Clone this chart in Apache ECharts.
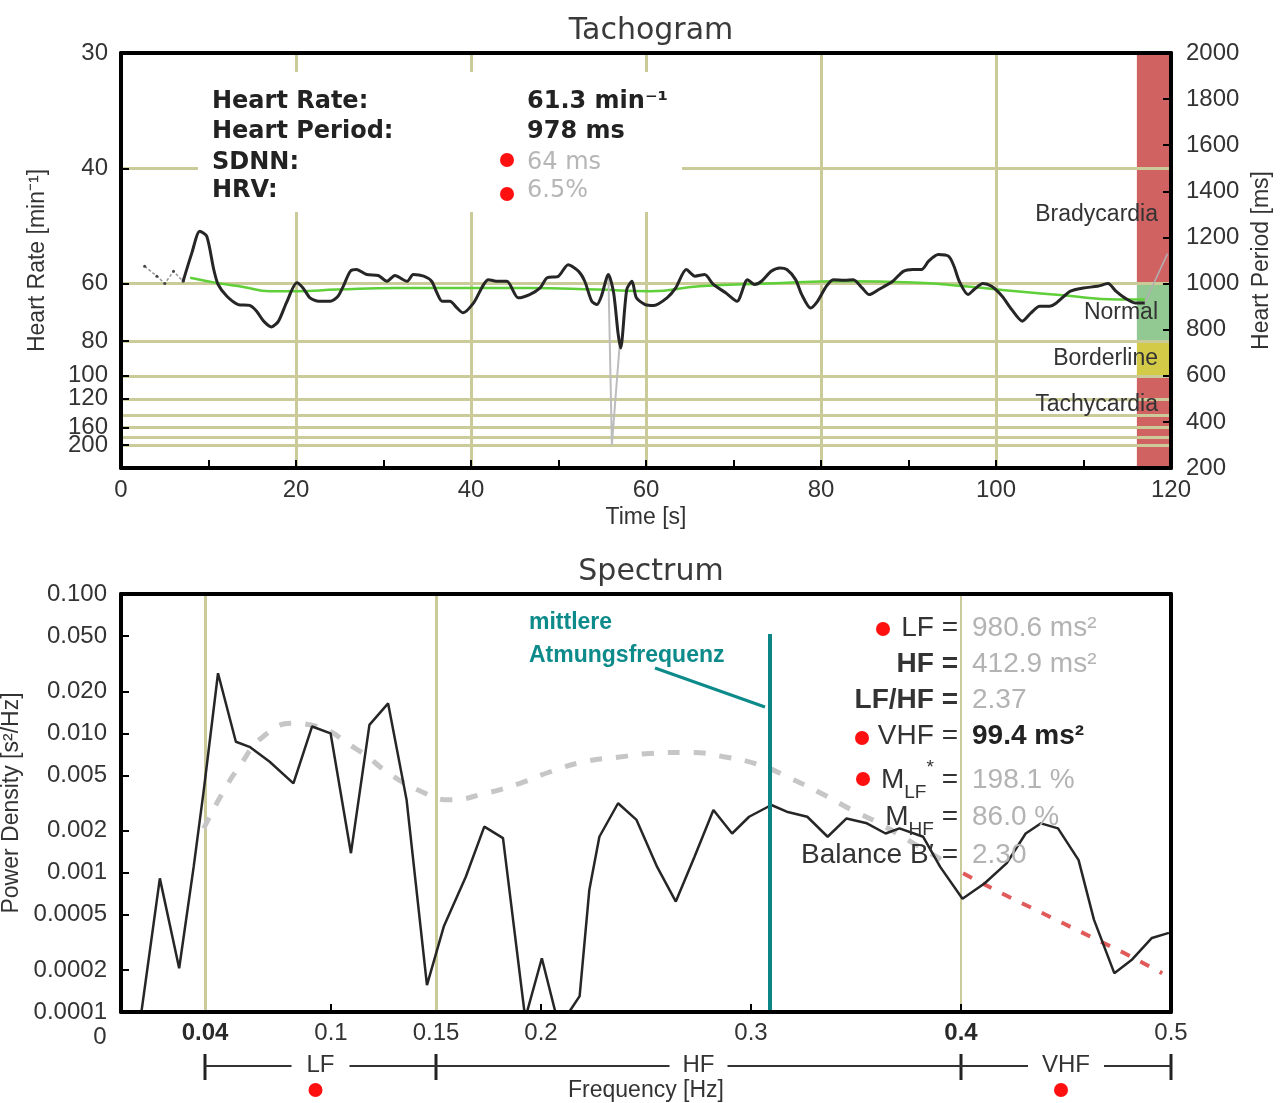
<!DOCTYPE html>
<html><head><meta charset="utf-8">
<script src="https://cdn.jsdelivr.net/npm/echarts@6/dist/echarts.min.js"></script>
<style>html,body{margin:0;padding:0;background:#fff}#c{width:1281px;height:1103px}</style>
</head><body><div id="c"></div>
<script>
// ================= Tachogram data =================
const timeTickLabels = [0, 20, 40, 60, 80, 100, 120];
const timeGridLines = [20, 40, 60, 80, 100];
const hrTickLabels = [30, 40, 60, 80, 100, 120, 160, 200];          // min^-1 (left axis)
const hrGridLines = [40, 60, 80, 100, 120, 140, 160, 180, 200];     // min^-1
const zoneStart = 116.1;                                           // s
const zoneNames = ['Bradycardia', 'Normal', 'Borderline', 'Tachycardia'];
const zoneHrRanges = [[30, 60], [60, 80], [80, 100], [100, 300]];  // min^-1
const zoneColors = ['#d06262', '#92c992', '#d3ca48', '#d06262'];
// [time s, heart period ms]
const hrFiltered = [[7.1,1010],[8.1,1133],[9.0,1227],[9.8,1205],[10.6,1061],[11.1,996],[12.1,945],[13.4,909],[14.7,905],[15.5,880],[16.3,837],[17.2,812],[18.0,837],[18.9,916],[20.1,1003],[20.8,981],[21.6,938],[22.6,923],[23.9,923],[24.8,945],[25.4,988],[26.2,1053],[26.9,1061],[28.1,1039],[29.4,1035],[30.4,1010],[31.3,1035],[32.7,1010],[33.4,1039],[34.6,1032],[35.5,1010],[36.1,960],[36.7,923],[37.6,923],[38.4,894],[39.1,873],[40.3,916],[42.0,1017],[42.9,1010],[44.1,1010],[45.4,938],[46.7,952],[47.9,981],[48.7,1025],[50.0,1032],[51.1,1082],[52.3,1053],[53.0,1010],[53.8,923],[54.4,909],[54.9,945],[55.7,1039],[56.3,960],[56.8,786],[57.1,720],[57.8,974],[58.4,1010],[58.9,938],[59.9,909],[60.9,905],[62.4,938],[63.4,981],[64.6,1061],[65.6,1032],[66.7,1039],[67.7,996],[69.1,960],[70.4,923],[71.6,1017],[72.4,996],[73.2,1010],[74.3,1053],[75.3,1068],[76.1,1061],[77.1,1017],[77.8,952],[78.8,894],[79.6,923],[80.6,988],[81.4,1017],[82.7,1014],[83.7,1017],[84.7,981],[85.5,952],[86.6,974],[88.2,1010],[89.4,1053],[90.5,1061],[91.5,1061],[92.3,1097],[93.4,1126],[94.6,1118],[95.2,1075],[95.8,1010],[96.8,952],[97.5,974],[98.5,1000],[99.5,988],[100.7,945],[101.8,887],[103.0,837],[104.0,873],[105.0,902],[106.1,902],[106.9,916],[108.5,967],[110.0,981],[111.6,988],[112.8,1000],[113.7,967],[114.7,938],[115.9,916],[117.0,916]];
const hrRawStart = [[2.7,1075],[4.1,1032],[5.0,1000],[6.0,1053],[7.1,1010]];
const hrRawSpike = [[55.7,1039],[56.1,300],[57.0,740]];
const hrRawEnd = [[117.0,916],[119.6,1130]];
const hrTrend = [[7.9,1025],[10.9,1003],[14.0,985],[17.0,967],[20.1,967],[24.7,974],[31.5,981],[39.1,981],[46.7,981],[54.4,974],[60.5,967],[66.1,988],[73.9,1000],[82.7,1010],[90.5,1005],[96.4,988],[102.3,967],[108.0,948],[113.9,931],[117.0,931]];
const infoLabels = ['Heart Rate:', 'Heart Period:', 'SDNN:', 'HRV:'];
const infoValues = ['61.3 min⁻¹', '978 ms', '64 ms', '6.5%'];

// ================= Spectrum data =================
const freqTickVals = [0, 0.04, 0.1, 0.15, 0.2, 0.3, 0.4, 0.5];
const freqTickLabels = ['0', '0.04', '0.1', '0.15', '0.2', '0.3', '0.4', '0.5'];
const freqMinorTicks = [0.1, 0.2, 0.3, 0.4];
const psdTickVals = [0.1, 0.05, 0.02, 0.01, 0.005, 0.002, 0.001, 0.0005, 0.0002, 0.0001];
const psdTickLabels = ['0.100', '0.050', '0.020', '0.010', '0.005', '0.002', '0.001', '0.0005', '0.0002', '0.0001'];
const bandEdges = [0.04, 0.15, 0.4, 0.5];
const bandNames = ['LF', 'HF', 'VHF'];
const respFreq = 0.309;           // Hz, mittlere Atmungsfrequenz
const respMarkerTop = 0.0516;     // s^2/Hz
// [frequency Hz, power density s^2/Hz]
const spectrumPsd = [[0.0093,0.00009],[0.0185,0.00091],[0.0277,0.000206],[0.0346,0.0011],[0.0394,0.0039],[0.0462,0.027],[0.0547,0.0087],[0.0612,0.0080],[0.0708,0.00625],[0.0821,0.00437],[0.091,0.0112],[0.0998,0.010],[0.1095,0.00138],[0.1183,0.0115],[0.1272,0.0164],[0.136,0.00333],[0.1457,0.000156],[0.1537,0.00041],[0.1642,0.000935],[0.173,0.00214],[0.1819,0.00177],[0.1925,0.00009],[0.2004,0.000243],[0.2076,0.00009],[0.2134,0.0001],[0.2184,0.00013],[0.223,0.00075],[0.2278,0.00181],[0.2367,0.00315],[0.2455,0.00239],[0.2553,0.0011],[0.2642,0.00062],[0.2731,0.0013],[0.2821,0.00282],[0.291,0.00191],[0.2991,0.00252],[0.3097,0.00306],[0.317,0.00274],[0.3268,0.00252],[0.3365,0.00181],[0.3455,0.00245],[0.3552,0.00226],[0.3641,0.00191],[0.3707,0.00208],[0.382,0.00181],[0.3901,0.0011],[0.4007,0.00065],[0.4113,0.00084],[0.4218,0.00117],[0.4308,0.00191],[0.4381,0.00226],[0.4462,0.00208],[0.456,0.00123],[0.4633,0.00046],[0.473,0.00019],[0.4812,0.000236],[0.4909,0.00034],[0.499,0.00037]];
const spectrumModel = [[0.0394,0.00208],[0.0483,0.00372],[0.0563,0.00576],[0.0676,0.00946],[0.0821,0.0118],[0.0902,0.0115],[0.1127,0.0076],[0.1288,0.00502],[0.1433,0.00381],[0.1561,0.00333],[0.1739,0.00372],[0.19,0.00438],[0.2045,0.0053],[0.2206,0.00625],[0.2383,0.00679],[0.252,0.00718],[0.2699,0.0073],[0.287,0.0068],[0.304,0.00593],[0.3187,0.00476],[0.3333,0.00372],[0.348,0.00282],[0.361,0.00226],[0.3772,0.00163],[0.3935,0.00117]];
const vhfTrend = [[0.401,0.00099],[0.4178,0.00073],[0.4487,0.000433],[0.4779,0.000264],[0.4958,0.00019]];

// ================= build =================
const lg = v => Math.round(Math.log10(v) * 1e9) / 1e9;
const toLog = arr => arr.map(([f, p]) => [f, lg(p)]);
const FONT = 'Liberation Sans';
const khaki = '#cbcb9a';
const axisLine = { show: true, onZero: false, lineStyle: { color: '#000', width: 4 } };
const tick = { show: true, inside: true, length: 8, lineStyle: { color: '#000', width: 2 } };
const lbl = { fontFamily: FONT, fontSize: 24, color: '#333', hideOverlap: false };
const nameStyle = { fontFamily: FONT, fontSize: 23, color: '#333' };
const noLine = { show: false };
const periodTicks = hrTickLabels.map(h => 60000 / h);
// labels split over two overlaid axes so that the tightly packed 160/200 labels are both kept
const periodLabelsA = periodTicks.slice(0, periodTicks.length - 1);
const periodLabelsB = periodTicks.slice(periodTicks.length - 1);
const hrFmt = v => String(Math.round(60000 / v));

const chart = echarts.init(document.getElementById('c'), null, { renderer: 'canvas' });

const option = {
  animation: false,
  backgroundColor: '#fff',
  title: [
    { text: 'Tachogram', left: 646, top: 11, textAlign: 'center', textStyle: { fontFamily: 'DejaVu Sans', fontSize: 30, fontWeight: 'normal', color: '#3a3a3a' } },
    { text: 'Spectrum', left: 646, top: 552, textAlign: 'center', textStyle: { fontFamily: 'DejaVu Sans', fontSize: 30, fontWeight: 'normal', color: '#3a3a3a' } }
  ],
  grid: [
    { left: 121, top: 53, width: 1050, height: 415, containLabel: false, outerBoundsMode: 'none' },
    { left: 121, top: 594, width: 1050, height: 418, containLabel: false, outerBoundsMode: 'none' }
  ],
  xAxis: [
    { gridIndex: 0, type: 'value', min: 0, max: 120, interval: 10, position: 'bottom', z: 6,
      axisLine, axisTick: tick, splitLine: noLine,
      axisLabel: { ...lbl, margin: 10, formatter: v => timeTickLabels.includes(v) ? String(v) : '' },
      name: 'Time [s]', nameLocation: 'middle', nameGap: 38, nameTextStyle: nameStyle },
    { gridIndex: 0, type: 'value', min: 0, max: 120, position: 'top', z: 6,
      axisLine, axisTick: noLine, axisLabel: noLine, splitLine: noLine },
    { gridIndex: 1, type: 'value', min: 0, max: 0.5, position: 'bottom', z: 6,
      axisLine, axisTick: { ...tick, customValues: freqMinorTicks }, splitLine: noLine,
      axisLabel: { ...lbl, margin: 9, customValues: freqTickVals,
        formatter: v => {
          const i = freqTickVals.findIndex(x => Math.abs(x - v) < 1e-9);
          if (i < 0) return '';
          const s = freqTickLabels[i];
          if (s === '0') return '{z|0}';
          if (s === '0.04' || s === '0.4') return '{b|' + s + '}';
          return s;
        },
        rich: { z: { fontFamily: FONT, fontSize: 24, color: '#333', padding: [4, 42, 0, 0] }, b: { fontFamily: FONT, fontSize: 24, fontWeight: 'bold', color: '#2a2a2a' } } },
      name: 'Frequency [Hz]', nameLocation: 'middle', nameGap: 67, nameTextStyle: nameStyle },
    { gridIndex: 1, type: 'value', min: 0, max: 0.5, position: 'top', z: 6,
      axisLine, axisTick: noLine, axisLabel: noLine, splitLine: noLine }
  ],
  yAxis: [
    { gridIndex: 0, type: 'value', min: 200, max: 2000, position: 'left', z: 6,
      axisLine, axisTick: { ...tick, customValues: periodTicks }, splitLine: noLine,
      axisLabel: { ...lbl, margin: 13, customValues: periodLabelsA, formatter: hrFmt },
      name: 'Heart Rate [min⁻¹]', nameLocation: 'middle', nameRotate: 90, nameGap: 72, nameTextStyle: nameStyle },
    { gridIndex: 0, type: 'value', min: 200, max: 2000, interval: 200, position: 'right', z: 6,
      axisLine, axisTick: tick, splitLine: noLine,
      axisLabel: { ...lbl, margin: 15, formatter: v => String(v) },
      name: 'Heart Period [ms]', nameLocation: 'middle', nameRotate: 90, nameGap: 76, nameTextStyle: nameStyle },
    { gridIndex: 1, type: 'value', min: -4, max: -1, position: 'left', z: 6,
      axisLine, axisTick: { ...tick, customValues: psdTickVals.map(lg) }, splitLine: noLine,
      axisLabel: { ...lbl, margin: 14, customValues: psdTickVals.map(lg),
        formatter: v => {
          let bi = 0, bd = 1e9;
          psdTickVals.forEach((t, i) => { const d = Math.abs(lg(t) - v); if (d < bd) { bd = d; bi = i; } });
          return psdTickLabels[bi];
        } },
      name: 'Power Density [s²/Hz]', nameLocation: 'middle', nameRotate: 90, nameGap: 77, nameTextStyle: nameStyle },
    { gridIndex: 1, type: 'value', min: -4, max: -1, position: 'right', z: 6,
      axisLine, axisTick: noLine, axisLabel: noLine, splitLine: noLine },
    { gridIndex: 0, type: 'value', min: 200, max: 2000, position: 'left', offset: 0, z: 6,
      axisLine: { show: false }, axisTick: noLine, splitLine: noLine,
      axisLabel: { ...lbl, margin: 13, customValues: periodLabelsB, formatter: hrFmt } }
  ],
  series: [
    { name: 'trend', type: 'line', xAxisIndex: 0, yAxisIndex: 1, z: 3, data: hrTrend, showSymbol: false, smooth: true,
      lineStyle: { color: '#5fcf3a', width: 2.5 }, silent: true,
      markArea: { silent: true, z: 1, data: zoneHrRanges.map((r, i) => [
        { xAxis: zoneStart, yAxis: 60000 / r[1], itemStyle: { color: zoneColors[i], opacity: 1 } },
        { xAxis: 120, yAxis: 60000 / r[0] }]) } },
    { name: 'rawStart', type: 'line', xAxisIndex: 0, yAxisIndex: 1, z: 3, data: hrRawStart, symbol: 'circle', symbolSize: 3,
      itemStyle: { color: '#444' }, lineStyle: { color: '#999', width: 1.5, type: [3, 2] }, silent: true },
    { name: 'rawSpike', type: 'line', xAxisIndex: 0, yAxisIndex: 1, z: 3, data: hrRawSpike, showSymbol: false,
      lineStyle: { color: '#bdbdbd', width: 2 }, silent: true },
    { name: 'rawEnd', type: 'line', xAxisIndex: 0, yAxisIndex: 1, z: 3, data: hrRawEnd, showSymbol: false,
      lineStyle: { color: '#b0b0b0', width: 1.5 }, silent: true },
    { name: 'heart', type: 'line', xAxisIndex: 0, yAxisIndex: 1, z: 4, data: hrFiltered, showSymbol: false, smooth: 0.25,
      lineStyle: { color: '#262626', width: 3 }, silent: true,
      markLine: { silent: true, z: 2, symbol: ['none', 'none'], label: { show: false },
        lineStyle: { color: khaki, width: 3, type: 'solid' },
        data: hrGridLines.map(h => ({ yAxis: 60000 / h })).concat(timeGridLines.map(t => ({ xAxis: t }))) } },
    { name: 'psd', type: 'line', xAxisIndex: 2, yAxisIndex: 2, z: 4, data: toLog(spectrumPsd), showSymbol: false,
      lineStyle: { color: '#262626', width: 2.5 }, silent: true,
      markLine: { silent: true, z: 2, symbol: ['none', 'none'], label: { show: false },
        lineStyle: { color: khaki, width: 3, type: 'solid' },
        data: bandEdges.slice(0, 3).map((f, i) => ({ xAxis: f, lineStyle: { color: khaki, width: i === 2 ? 2 : 3, type: 'solid' } })) } },
    { name: 'model', type: 'line', xAxisIndex: 2, yAxisIndex: 2, z: 3, data: toLog(spectrumModel), showSymbol: false, smooth: true,
      lineStyle: { color: '#c6c6c6', width: 5, type: [12, 14] }, silent: true },
    { name: 'vhfTrend', type: 'line', xAxisIndex: 2, yAxisIndex: 2, z: 3, data: toLog(vhfTrend), showSymbol: false,
      lineStyle: { color: '#e05a5a', width: 4, type: [10, 12] }, silent: true,
      markLine: { silent: true, z: 5, symbol: ['none', 'none'], label: { show: false },
        lineStyle: { color: '#0b8585', width: 4, type: 'solid' },
        data: [[{ coord: [respFreq, -4] }, { coord: [respFreq, lg(respMarkerTop)] }]] } }
  ]
};
chart.setOption(option);

// ================= annotations =================
const G = [];
const txt = (x, y, text, o) => G.push({ type: 'text', z: 20, x: 0, y: 0, silent: true,
  style: Object.assign({ text, x, y, fontFamily: FONT, fontSize: 24, fill: '#333',
    align: 'left', verticalAlign: 'middle', textAlign: 'left', textVerticalAlign: 'middle' }, o || {}) });
const dot = (cx, cy) => G.push({ type: 'circle', z: 21, silent: true, shape: { cx, cy, r: 7 }, style: { fill: '#ff1010' } });
const seg = (x1, y1, x2, y2, color, w) => G.push({ type: 'line', z: 20, silent: true, shape: { x1, y1, x2, y2 }, style: { stroke: color, lineWidth: w } });

// info box
G.push({ type: 'rect', z: 15, silent: true, shape: { x: 198, y: 72, width: 484, height: 140 }, style: { fill: '#fff' } });
const infoY = [102, 132, 163, 191];
infoLabels.forEach((s, i) => txt(212, infoY[i], s, { fontFamily: 'DejaVu Sans', fontWeight: 'bold', fontSize: 24, fill: '#222' }));
infoValues.forEach((s, i) => txt(527, infoY[i], s, i < 2
  ? { fontFamily: 'DejaVu Sans', fontWeight: 'bold', fontSize: 24, fill: '#222' }
  : { fontFamily: 'DejaVu Sans', fontSize: 24, fill: '#b6b6b6' }));
dot(507, 160); dot(507, 194);

// zone labels
const zoneLabelY = [215, 313, 359, 405];
zoneNames.forEach((s, i) => txt(1158, zoneLabelY[i], s, { fontSize: 23, align: 'right', textAlign: 'right', fill: '#333' }));

// respiration annotation
txt(529, 623, 'mittlere', { fontWeight: 'bold', fontSize: 23, fill: '#0d8a8a' });
txt(529, 656, 'Atmungsfrequenz', { fontWeight: 'bold', fontSize: 23, fill: '#0d8a8a' });
seg(655, 668, 765, 707, '#0d8a8a', 3);

// spectral results block
const R = { align: 'right', textAlign: 'right', fontSize: 28 };
const V = { fontSize: 28, fill: '#b3b3b3' };
txt(958, 628, 'LF =', R); txt(972, 628, '980.6 ms²', V); dot(883, 629);
txt(958, 664, 'HF =', Object.assign({}, R, { fontWeight: 'bold' })); txt(972, 664, '412.9 ms²', V);
txt(958, 700, 'LF/HF =', Object.assign({}, R, { fontWeight: 'bold' })); txt(972, 700, '2.37', V);
txt(958, 736, 'VHF =', R); txt(972, 736, '99.4 ms²', { fontSize: 28, fontWeight: 'bold', fill: '#222' }); dot(862, 738);
const richM = {
  m: { fontFamily: FONT, fontSize: 28, fill: '#333', lineHeight: 44, verticalAlign: 'middle' },
  s: { fontFamily: FONT, fontSize: 19, fill: '#333', lineHeight: 44, verticalAlign: 'bottom' },
  p: { fontFamily: FONT, fontSize: 19, fill: '#333', lineHeight: 44, verticalAlign: 'top' }
};
txt(958, 780, '{m|M}{s|LF}{p|*}{m| =}', Object.assign({}, R, { rich: richM })); txt(972, 780, '198.1 %', V); dot(863, 779);
txt(958, 817, '{m|M}{s|HF}{m| =}', Object.assign({}, R, { rich: richM })); txt(972, 817, '86.0 %', V);
txt(958, 855, 'Balance B′ =', R); txt(972, 855, '2.30', V);

// frequency band ruler
const px = bandEdges.map(f => chart.convertToPixel({ xAxisIndex: 2 }, f));
const rulerY = 1066;
px.forEach(x => seg(x, 1054, x, 1080, '#222', 3));
bandNames.forEach((n, i) => {
  const mid = (px[i] + px[i + 1]) / 2;
  const half = (n.length === 3 ? 24 : 15) + 14;
  seg(px[i], rulerY, mid - half, rulerY, '#333', 2);
  seg(mid + half, rulerY, px[i + 1], rulerY, '#333', 2);
  txt(mid, rulerY - 1, n, { align: 'center', textAlign: 'center', fontSize: 24 });
});
dot((px[0] + px[1]) / 2 - 5, 1090);
dot((px[2] + px[3]) / 2 - 5, 1090);

chart.setOption({ graphic: { elements: G } });
</script>
</body></html>
